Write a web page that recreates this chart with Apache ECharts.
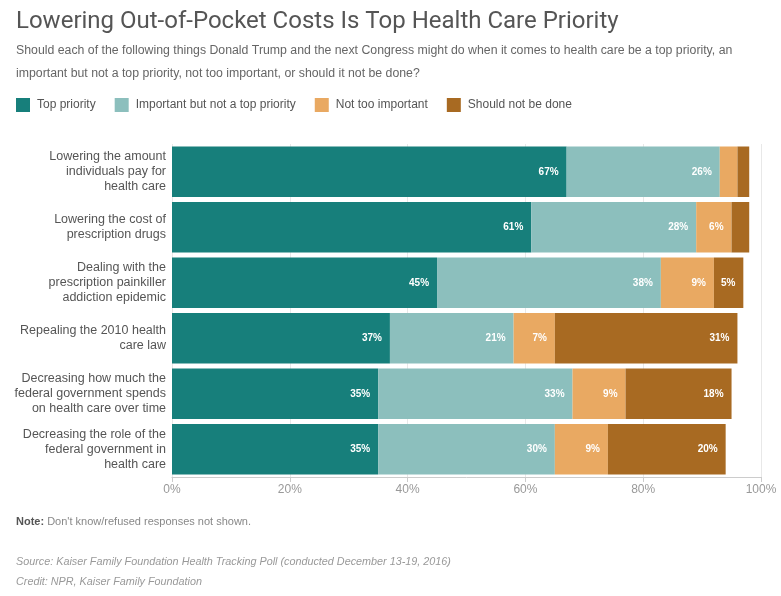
<!DOCTYPE html>
<html>
<head>
<meta charset="utf-8">
<script src="https://cdn.jsdelivr.net/npm/echarts@6/dist/echarts.min.js"></script>
<style>
  html, body { margin: 0; padding: 0; background: #fff; }
  #chart { width: 781px; height: 596px; }
</style>
</head>
<body>
<div id="chart"></div>
<script>
var categories = [
  'Lowering the amount\nindividuals pay for\nhealth care',
  'Lowering the cost of\nprescription drugs',
  'Dealing with the\nprescription painkiller\naddiction epidemic',
  'Repealing the 2010 health\ncare law',
  'Decreasing how much the\nfederal government spends\non health care over time',
  'Decreasing the role of the\nfederal government in\nhealth care'
]
var topPriority = [67, 61, 45, 37, 35, 35]
var importantNotTop = [26, 28, 38, 21, 33, 30]
var notTooImportant = [3, 6, 9, 7, 9, 9]
var shouldNotBeDone = [2, 3, 5, 31, 18, 20]
var xTicks = [0, 20, 40, 60, 80, 100]

var colors = ['#177f7b', '#8cbfbd', '#e9a962', '#a86a22']
var seriesNames = ['Top priority', 'Important but not a top priority', 'Not too important', 'Should not be done']
var seriesData = [topPriority, importantNotTop, notTooImportant, shouldNotBeDone]

var myChart = echarts.init(document.getElementById('chart'))

// 每个分段一个系列，堆叠
var series = seriesData.map(function (d, i) {
  return {
    name: seriesNames[i],
    type: 'bar',
    stack: 'total',
    barCategoryGap: '9%',
    itemStyle: { color: colors[i] },
    emphasis: { disabled: true },
    label: {
      show: true,
      position: 'insideRight',
      distance: 8,
      color: '#fff',
      fontSize: 10,
      fontWeight: 'bold',
      fontFamily: 'Liberation Sans, Arial, sans-serif',
      formatter: function (p) {
        return p.value >= 5 ? p.value + '%' : ''
      }
    },
    data: d
  }
})

var option = {
  animation: false,
  color: colors,
  title: [
    {
      text: 'Lowering Out-of-Pocket Costs Is Top Health Care Priority',
      left: 16, top: 10, padding: 0,
      textStyle: { color: '#555', fontSize: 24, fontWeight: 'normal', fontFamily: 'Roboto, sans-serif' }
    },
    {
      text: 'Should each of the following things Donald Trump and the next Congress might do when it comes to health care be a top priority, an\nimportant but not a top priority, not too important, or should it not be done?',
      left: 16, top: 39, padding: 0,
      textStyle: { color: '#666', fontSize: 12.3, lineHeight: 23, fontWeight: 'normal', fontFamily: 'Liberation Sans, Arial, sans-serif' }
    },
    {
      text: '{b|Note:} Don\'t know/refused responses not shown.',
      left: 16, top: 516, padding: 0,
      textStyle: {
        color: '#888', fontSize: 11, fontWeight: 'normal', fontFamily: 'Liberation Sans, sans-serif',
        rich: { b: { color: '#555', fontWeight: 'bold', fontSize: 11, fontFamily: 'Liberation Sans, sans-serif' } }
      }
    },
    {
      text: 'Source: Kaiser Family Foundation Health Tracking Poll (conducted December 13-19, 2016)\nCredit: NPR, Kaiser Family Foundation',
      left: 16, top: 552, padding: 0,
      textStyle: { color: '#999', fontSize: 10.8, lineHeight: 20, fontStyle: 'italic', fontWeight: 'normal', fontFamily: 'Liberation Sans, sans-serif' }
    }
  ],
  legend: {
    left: 16, top: 98, padding: 0,
    icon: 'rect',
    itemWidth: 14, itemHeight: 14,
    itemGap: 19,
    selectedMode: false,
    textStyle: { color: '#555', fontSize: 12, fontFamily: 'Liberation Sans, sans-serif', padding: [0, 0, 0, 2] },
    data: seriesNames
  },
  grid: { left: 172, right: 20, top: 144, bottom: 119, containLabel: false },
  xAxis: {
    type: 'value',
    min: xTicks[0], max: xTicks[xTicks.length - 1], interval: 20,
    axisLine: { show: true, lineStyle: { color: '#ccc' } },
    axisTick: { show: true, length: 5, lineStyle: { color: '#ccc' } },
    splitLine: { show: true, lineStyle: { color: '#e8e8e8' } },
    axisLabel: { color: '#999', fontSize: 12, margin: 7, fontFamily: 'Liberation Sans, sans-serif', formatter: '{value}%' }
  },
  yAxis: {
    type: 'category',
    inverse: true,
    data: categories,
    axisLine: { show: false },
    axisTick: { show: false },
    axisLabel: { color: '#555', fontSize: 12.5, lineHeight: 15, margin: 6, fontFamily: 'Liberation Sans, Arial, sans-serif' }
  },
  series: series
}

myChart.setOption(option)
</script>
</body>
</html>
